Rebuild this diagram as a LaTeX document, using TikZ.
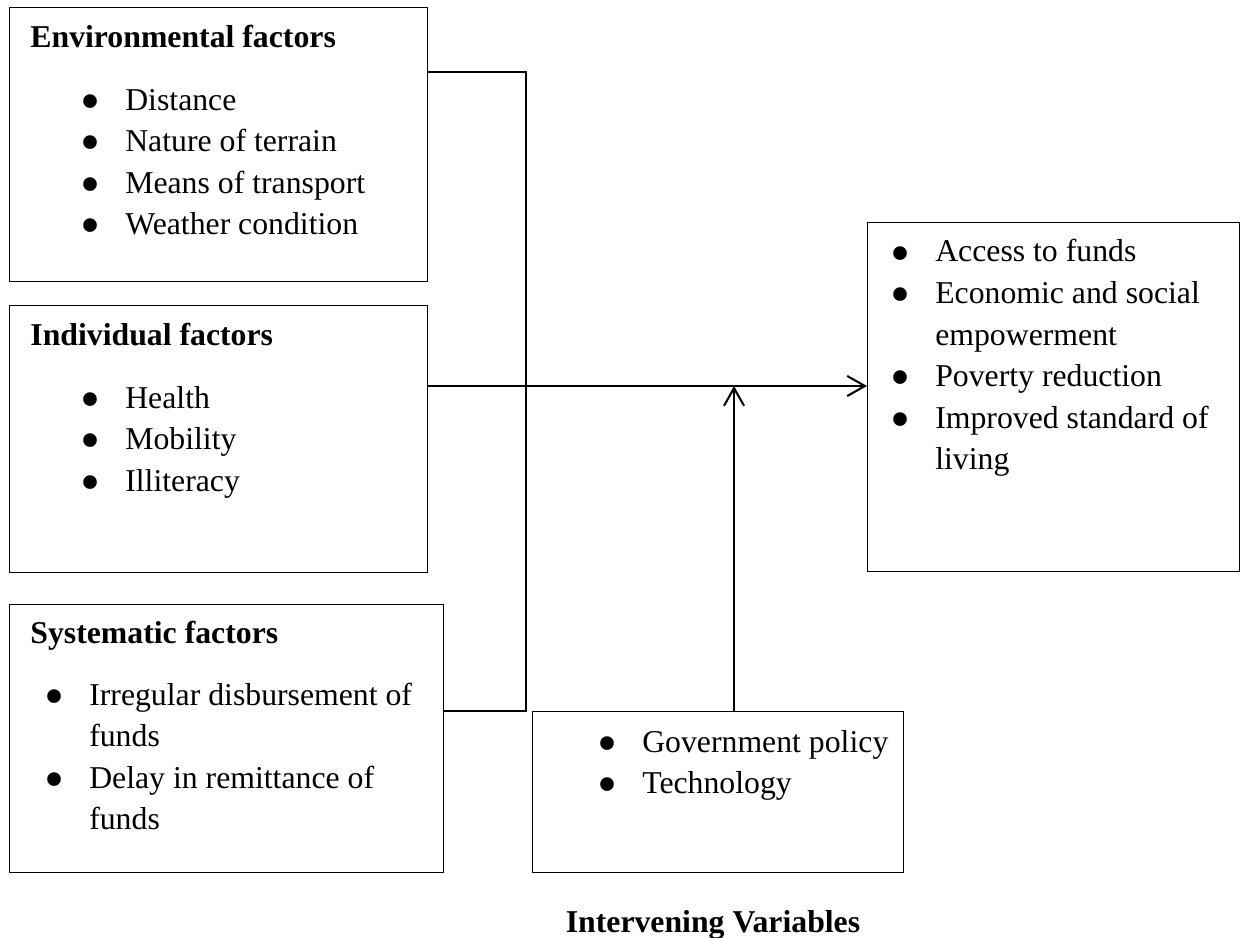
\documentclass[tikz,border=0pt]{standalone}
\usepackage{fontspec}
\setmainfont{Liberation Serif}
\usetikzlibrary{arrows, arrows.meta}
\usetikzlibrary{positioning}

\newcommand{\dotmark}{\raisebox{-0.17cm}[0pt][0pt]{\scalebox{1.8}{\textbullet}}}
\newcommand{\bulletlist}[1]{\begin{tabular}[t]{@{}p{0.76cm}@{}l@{}}#1\end{tabular}}

\tikzset{
    factorbox/.style={draw, line width=0.6pt, anchor=north west, inner sep=0pt},
    heading/.style={anchor=base west, inner sep=0pt, font=\fontsize{15.3}{20}\selectfont\bfseries},
    itemlist/.style={anchor=base west, inner sep=0pt},
    link/.style={line width=0.6pt},
    flow/.style={line width=1pt, -{Straight Barb[length=3mm, width=3.4mm]}}
}

\begin{document}
\begin{tikzpicture}[font=\fontsize{15.3}{20}\selectfont]
    \useasboundingbox (0,0) rectangle (21.014,-15.883);

    \node[factorbox, minimum width=7.078cm, minimum height=4.640cm] (env) at (0.152,-0.119) {};
    \node[factorbox, minimum width=7.078cm, minimum height=4.521cm] (ind) at (0.152,-5.165) {};
    \node[factorbox, minimum width=7.349cm, minimum height=4.538cm] (sys) at (0.152,-10.228) {};
    \node[factorbox, minimum width=6.299cm, minimum height=5.910cm] (out) at (14.681,-3.759) {};
    \node[factorbox, minimum width=6.282cm, minimum height=2.726cm] (int) at (9.008,-12.039) {};

    \node[heading] (envhead) at (0.508,-0.796) {Environmental factors};
    \node[itemlist] (envlist) at (1.355,-1.863) {\bulletlist{
        \dotmark & Distance\\
        \dotmark & Nature of terrain\\
        \dotmark & Means of transport\\
        \dotmark & Weather condition}};

    \node[heading] (indhead) at (0.508,-5.842) {Individual factors};
    \node[itemlist] (indlist) at (1.355,-6.909) {\bulletlist{
        \dotmark & Health\\
        \dotmark & Mobility\\
        \dotmark & Illiteracy}};

    \node[heading] (syshead) at (0.508,-10.888) {Systematic factors};
    \node[itemlist] (syslist) at (0.745,-11.938) {\bulletlist{
        \dotmark & Irregular disbursement of\\
                 & funds\\
        \dotmark & Delay in remittance of\\
                 & funds}};

    \node[itemlist] (outlist) at (15.070,-4.436) {\bulletlist{
        \dotmark & Access to funds\\
        \dotmark & Economic and social\\
                 & empowerment\\
        \dotmark & Poverty reduction\\
        \dotmark & Improved standard of\\
                 & living}};

    \node[itemlist] (intlist) at (10.109,-12.734) {\bulletlist{
        \dotmark & Government policy\\
        \dotmark & Technology}};

    \node[heading, anchor=base] (inttitle) at (12.073,-15.782) {Intervening Variables};

    \coordinate (join) at (8.907,-12.039);
    \coordinate (meet) at (12.429,-6.536);

    \draw[link] ([yshift=-1.10cm]env.north east) -| (join) -- (sys.east |- join);
    \draw[flow] (ind.east |- meet) -- (out.west |- meet);
    \draw[flow] (int.north -| meet) -- (meet);
\end{tikzpicture}
\end{document}
